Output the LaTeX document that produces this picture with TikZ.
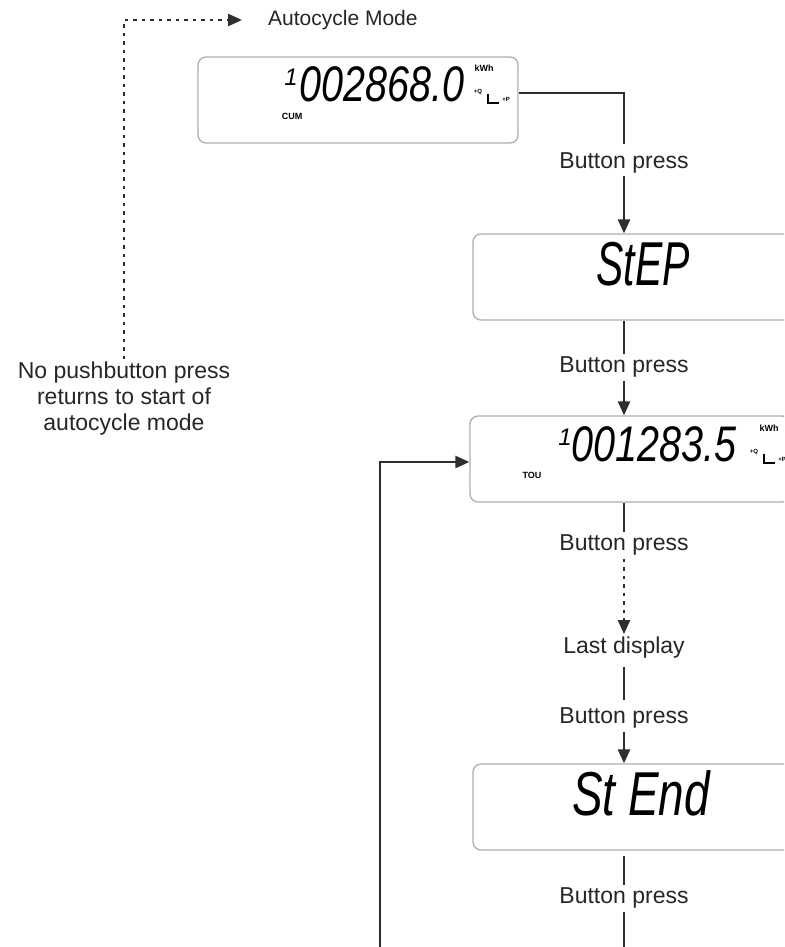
\documentclass[tikz,border=0pt]{standalone}
\usepackage{fontspec}
\setmainfont{Liberation Sans}
\usetikzlibrary{positioning,shapes,arrows.meta,calc}

\begin{document}
\begin{tikzpicture}[x=1pt, y=-1pt,
    lcd/.style={draw=black!32, line width=1.3pt, rounded corners=8pt, minimum width=320pt, minimum height=86pt, inner sep=0pt},
    flow/.style={draw=black!82, line width=2.5pt},
    dots/.style={flow, dash pattern=on 3.5pt off 5pt},
    tip/.style={-{Triangle[length=14pt, width=12pt]}},
    lbl/.style={font=\fontsize{23}{26}\selectfont, text=black!85, inner xsep=2pt, inner ysep=3pt},
    digits/.style={font=\fontsize{50}{50}\selectfont\itshape, inner sep=0pt},
    word/.style={font=\fontsize{62}{62}\selectfont\itshape, inner sep=0pt},
    tag/.style={font=\fontsize{9}{9}\selectfont\bfseries, inner sep=0pt},
    tiny/.style={font=\fontsize{6}{6}\selectfont\bfseries, inner sep=0pt}]

  \useasboundingbox (0,0) rectangle (784,947);
  \clip (0,0) rectangle (784,947);

  % displays
  \node[lcd] (cum) at (358,100) {};
  \node[lcd] (step) at (633,277) {};
  \node[lcd] (tou) at (630,459) {};
  \node[lcd] (stend) at (633,807) {};

  % display contents
  \node[digits, font=\fontsize{24}{24}\selectfont\itshape] (cumone) at (291,77) {1};
  \node[digits] (cumval) at (382,84) {\scalebox{0.79}[1]{002868.0}};
  \node[tag] (cumkwh) at (484,68) {kWh};
  \node[tag] (cumtag) at (292,116) {CUM};

  \node[word] (stepval) at (643,264) {\scalebox{0.66}[1]{StEP}};

  \node[digits, font=\fontsize{24}{24}\selectfont\itshape] (touone) at (565,437) {1};
  \node[digits] (touval) at (654,444) {\scalebox{0.79}[1]{001283.5}};
  \node[tag] (toukwh) at (769,428) {kWh};
  \node[tag] (toutag) at (532,475) {TOU};

  \node[word] (stendval) at (641,793) {\scalebox{0.74}[1]{St End}};

  % +Q / +P quadrant marks
  \foreach \qx/\qy in {488/103, 764/463} {
    \node[tiny] at (\qx-10,\qy-11) {+Q};
    \node[tiny] at (\qx+18,\qy-4) {+P};
    \draw[line width=1.6pt] (\qx,\qy-9) -- (\qx,\qy) -- (\qx+11,\qy);
  }

  % labels
  \node[lbl, anchor=west, font=\fontsize{21}{25}\selectfont] (auto) at (266,20) {Autocycle Mode};
  \node[lbl] (bp1) at (624,163) {Button press};
  \node[lbl] (bp2) at (624,367) {Button press};
  \node[lbl] (bp3) at (624,545) {Button press};
  \node[lbl] (last) at (624,648) {Last display};
  \node[lbl] (bp4) at (624,718) {Button press};
  \node[lbl] (bp5) at (624,898) {Button press};
  \node[lbl, align=center] (nopress) at (124,399) {No pushbutton press\\returns to start of\\autocycle mode};

  % connectors
  \draw[flow] ([yshift=7pt]cum.east) -| ([yshift=6pt]bp1.north);
  \draw[flow, tip] (bp1.south) -- (bp1.south |- step.north);
  \draw[flow] (bp2.north |- step.south) -- (bp2.north);
  \draw[flow, tip] (bp2.south) -- (bp2.south |- tou.north);
  \draw[flow] (bp3.north |- tou.south) -- (bp3.north);
  \draw[dots, tip] (bp3.south) -- (last.north);
  \draw[flow, shorten <=5pt, shorten >=5pt] (last.south) -- (bp4.north);
  \draw[flow, tip] (bp4.south) -- (bp4.south |- stend.north);
  \draw[flow, shorten <=5pt] (bp5.north |- stend.south) -- (bp5.north);
  \coordinate (loopbot) at (380,970);
  \draw[flow, tip] (bp5.south) |- (loopbot) |- ([yshift=-3pt]tou.west);
  \draw[dots, tip, shorten >=24pt] (nopress.north) |- (auto.west);
\end{tikzpicture}
\end{document}
